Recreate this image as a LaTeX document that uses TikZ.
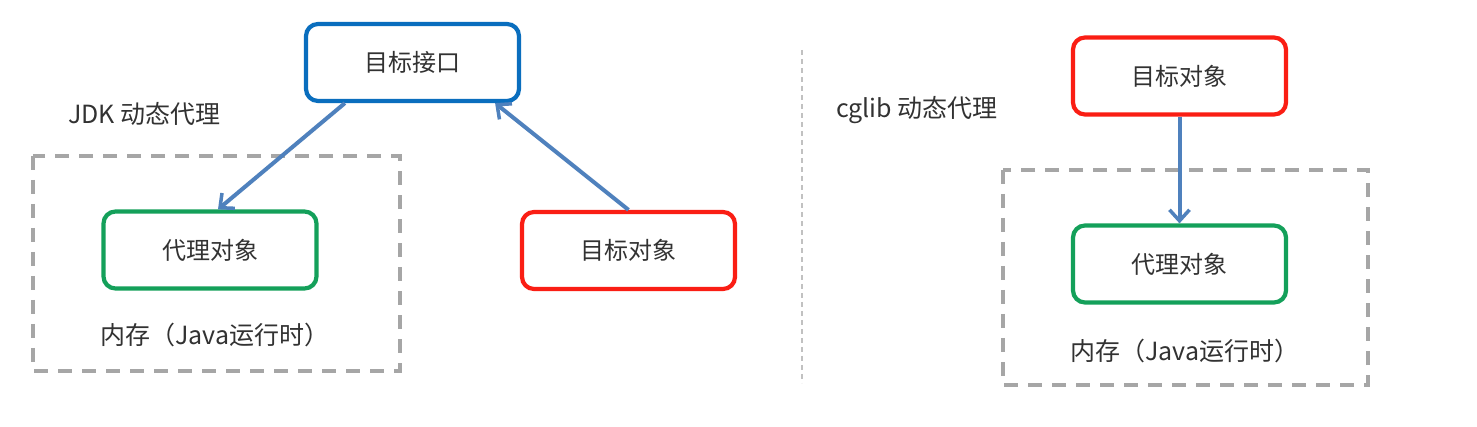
\documentclass[tikz,border=0pt]{standalone}
\usepackage{fontspec}
\setmainfont{Noto Sans CJK SC}
\usetikzlibrary{arrows.meta,calc}
\definecolor{cblue}{RGB}{10,110,190}
\definecolor{cgreen}{RGB}{20,160,90}
\definecolor{cred}{RGB}{250,30,20}
\definecolor{carrow}{RGB}{79,129,189}
\definecolor{cgray}{RGB}{166,166,166}
\definecolor{ctext}{RGB}{50,50,50}
\tikzset{
  x=1pt,y=-1pt,
  box/.style={draw,line width=4.2pt,rounded corners=12pt,minimum width=213pt,minimum height=77pt,inner sep=0pt,font=\fontsize{24}{28}\selectfont,text=ctext},
  region/.style={draw=cgray,line width=3.6pt,dash pattern=on 14pt off 10pt},
  lbl/.style={font=\fontsize{25}{29}\selectfont,text=ctext,inner sep=0pt},
  conn/.style={draw=carrow,line width=4pt,-{Straight Barb[length=11pt,width=20pt,line width=3.5pt]}},
}
\begin{document}
\begin{tikzpicture}
\useasboundingbox[fill=white] (0,0) rectangle (1477,427);
% left part
\draw[region] (33,156) rectangle (400,371);
\node[box,draw=cblue] (iface) at (412.5,62.5) {目标接口};
\node[box,draw=cgreen] (proxyL) at (210,250) {代理对象};
\node[box,draw=cred] (targetL) at (628.5,250.5) {目标对象};
\node[lbl,anchor=west] (jdk) at (68,114) {JDK 动态代理};
\node[lbl,anchor=west] (memL) at (100,335) {内存（Java运行时）};
\draw[conn] ([xshift=41pt]iface.south west) -- ([xshift=8pt]proxyL.north);
\draw[conn] (targetL.north) -- ([xshift=-26pt]iface.south east);
% separator
\coordinate (sepA) at (802,50);
\coordinate (sepB) at (802,383);
\draw[cgray!70,line width=1.3pt,dash pattern=on 5pt off 4pt] (sepA) -- (sepB);
% right part
\draw[region] (1003,170) rectangle (1368,385);
\node[box,draw=cred] (targetR) at (1179.5,76) {目标对象};
\node[box,draw=cgreen] (proxyR) at (1179.5,264) {代理对象};
\node[lbl,anchor=west] (cglib) at (836,110) {cglib 动态代理};
\node[lbl,anchor=west] (memR) at (1070,351) {内存（Java运行时）};
\draw[conn] (targetR.south) -- (proxyR.north);
\end{tikzpicture}
\end{document}
